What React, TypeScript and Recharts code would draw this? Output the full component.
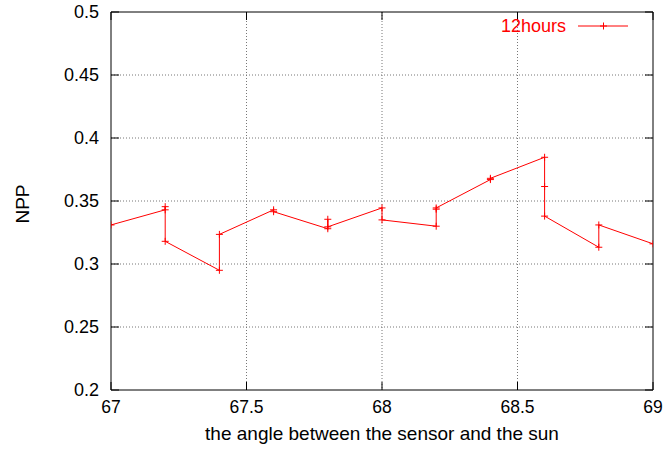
import { LineChart, Line, XAxis, YAxis, CartesianGrid, Label, ReferenceLine } from "recharts";

// NPP sampled against sun/sensor angle, in drawing order (repeated angles give the vertical jumps)
const angle = [67.0, 67.2, 67.2, 67.2, 67.4, 67.4, 67.6, 67.6, 67.8, 67.8, 67.8, 68.0, 68.0, 68.2, 68.2, 68.2, 68.4, 68.4, 68.6, 68.6, 68.6, 68.8, 68.8, 69.0];
const npp = [0.331, 0.343, 0.3455, 0.318, 0.295, 0.3235, 0.343, 0.3415, 0.328, 0.3355, 0.3295, 0.3445, 0.335, 0.33, 0.3435, 0.3445, 0.367, 0.368, 0.3847, 0.3615, 0.338, 0.3133, 0.331, 0.316];

const xTicks = [67, 67.5, 68, 68.5, 69];
const yTicks = [0.2, 0.25, 0.3, 0.35, 0.4, 0.45, 0.5];

const seriesName = "12hours";

const data = angle.map((a, i) => ({ angle: a, npp: npp[i] }));

// dotted grid only inside the frame, so the border stays solid
const xGrid = xTicks.slice(1, -1);
const yGrid = yTicks.slice(1, -1);

const FONT = "'Liberation Sans', Arial, Helvetica, sans-serif";
const RED = "#ff0000";
const TICK = 8;

// plot box edges (px) given the chart margins below
const W = 664;
const H = 450;
const M = { top: 12, right: 11, bottom: 0, left: 51 };
const PLOT_TOP = M.top;
const PLOT_RIGHT = W - M.right;

const PlusDot = (props: any) => {
  const { cx, cy, index } = props;
  if (cx == null || cy == null) return <g key={index} />;
  return (
    <g key={index}>
      <line x1={cx - 3.5} y1={cy} x2={cx + 3.5} y2={cy} stroke={RED} strokeWidth={1} />
      <line x1={cx} y1={cy - 3.5} x2={cx} y2={cy + 3.5} stroke={RED} strokeWidth={1} />
    </g>
  );
};

// gnuplot-style ticks: short marks pointing into the plot, mirrored on the opposite side
const BottomTick = ({ x, y, payload }: any) => (
  <g>
    <line x1={x} y1={y} x2={x} y2={y - TICK} stroke="#000" />
    <line x1={x} y1={PLOT_TOP} x2={x} y2={PLOT_TOP + TICK} stroke="#000" />
    <text x={x} y={y + 17} dy="0.35em" textAnchor="middle" fontSize={17.5} fontFamily={FONT} fill="#000">
      {payload.value}
    </text>
  </g>
);

const LeftTick = ({ x, y, payload }: any) => (
  <g>
    <line x1={x} y1={y} x2={x + TICK} y2={y} stroke="#000" />
    <line x1={PLOT_RIGHT} y1={y} x2={PLOT_RIGHT - TICK} y2={y} stroke="#000" />
    <text x={x - 12} y={y} dy="0.35em" textAnchor="end" fontSize={18} fontFamily={FONT} fill="#000">
      {payload.value}
    </text>
  </g>
);

export default function App() {
  return (
    <div style={{ position: "absolute", left: 0, top: 0, width: W, height: H, background: "#fff" }}>
      <LineChart width={W} height={H} data={data} margin={M}>
        <CartesianGrid stroke="#777" strokeDasharray="1 2" horizontalValues={yGrid} verticalValues={xGrid} />
        <XAxis
          dataKey="angle"
          type="number"
          domain={[67, 69]}
          ticks={xTicks}
          height={60}
          tickSize={0}
          tickMargin={0}
          tickLine={false}
          tick={<BottomTick />}
          axisLine={{ stroke: "#000" }}
          allowDataOverflow
        >
          <Label
            content={({ viewBox }: any) => (
              <text
                x={viewBox.x + viewBox.width / 2}
                y={viewBox.y + 50}
                textAnchor="middle"
                fontSize={19}
                fontFamily={FONT}
                fill="#000"
              >
                the angle between the sensor and the sun
              </text>
            )}
          />
        </XAxis>
        <YAxis
          type="number"
          domain={[0.2, 0.5]}
          ticks={yTicks}
          width={60}
          tickSize={0}
          tickMargin={0}
          tickLine={false}
          tick={<LeftTick />}
          axisLine={{ stroke: "#000" }}
          allowDataOverflow
        >
          <Label
            content={({ viewBox }: any) => {
              const cx = viewBox.x - 29;
              const cy = viewBox.y + viewBox.height / 2 + 3;
              return (
                <text
                  x={cx}
                  y={cy}
                  dy="0.35em"
                  textAnchor="middle"
                  transform={`rotate(-90 ${cx} ${cy})`}
                  fontSize={19}
                  fontFamily={FONT}
                  fill="#000"
                >
                  NPP
                </text>
              );
            }}
          />
        </YAxis>
        {/* top and right edges of the frame */}
        <ReferenceLine y={0.5} stroke="#000" strokeWidth={1} ifOverflow="visible" />
        <ReferenceLine x={69} stroke="#000" strokeWidth={1} ifOverflow="visible" />
        <Line
          type="linear"
          dataKey="npp"
          name={seriesName}
          stroke={RED}
          strokeWidth={1}
          dot={PlusDot}
          activeDot={false}
          isAnimationActive={false}
        />
      </LineChart>
      {/* key box, top right inside the frame */}
      <svg style={{ position: "absolute", left: 480, top: 16, overflow: "visible" }} width={170} height={20}>
        <text x={86} y={10} dy="0.35em" textAnchor="end" fontSize={18} fontFamily={FONT} fill={RED}>
          {seriesName}
        </text>
        <line x1={98} y1={10} x2={148} y2={10} stroke={RED} />
        <line x1={123.5} y1={6.5} x2={123.5} y2={13.5} stroke={RED} />
        <line x1={120} y1={10} x2={127} y2={10} stroke={RED} />
      </svg>
    </div>
  );
}
